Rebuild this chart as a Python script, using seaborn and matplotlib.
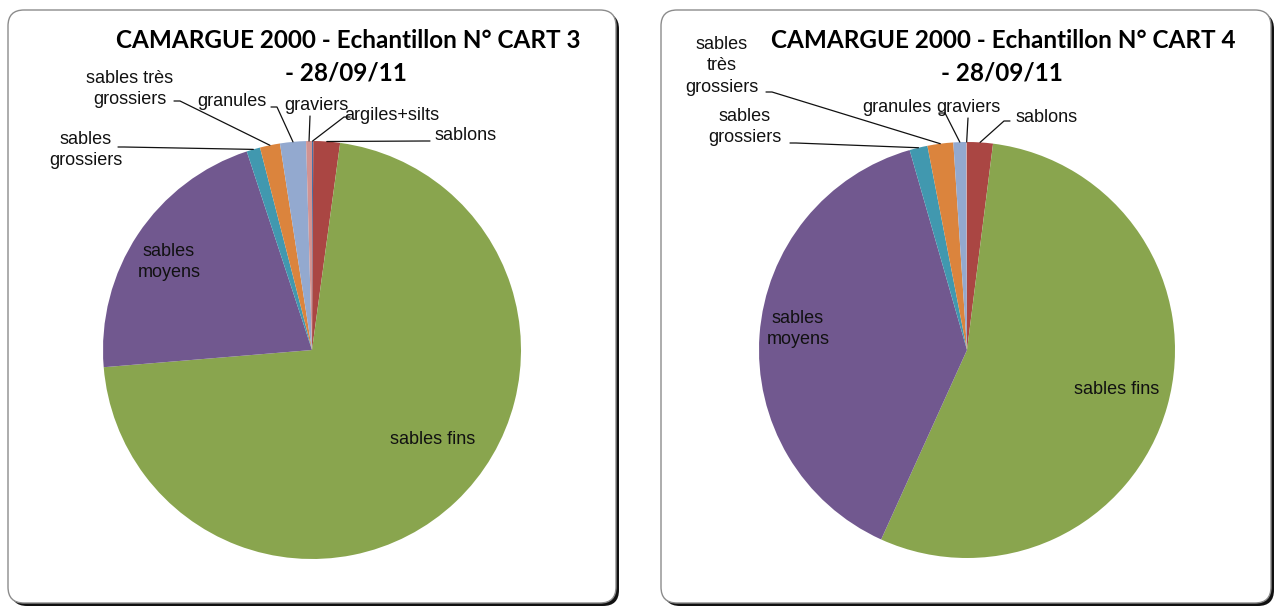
import matplotlib
matplotlib.use("Agg")
import numpy as np
import matplotlib.pyplot as plt
from matplotlib.patches import FancyBboxPatch
import seaborn as sns

# Grain-size fractions (% of sample mass), in slice order starting at 12 o'clock
categories = ["argiles+silts", "sablons", "sables fins", "sables moyens",
              "sables grossiers", "sables très grossiers", "granules", "graviers"]
cart3 = [0.1, 2.05, 71.5, 21.25, 1.05, 1.55, 2.0, 0.45]
cart4 = [0.0, 2.0, 54.8, 38.8, 1.4, 2.0, 1.0, 0.05]

# Chart titles, as two lines each
titles = [("CAMARGUE 2000 - Echantillon N° CART 3", "- 28/09/11"),
          ("CAMARGUE 2000 - Echantillon N° CART 4", "- 28/09/11")]

# Wrapped label text for each panel (None = no label shown)
labels3 = ["argiles+silts", "sablons", "sables fins", "sables\nmoyens",
           "sables\ngrossiers", "sables très\ngrossiers", "granules", "graviers"]
labels4 = [None, "sablons", "sables fins", "sables\nmoyens",
           "sables\ngrossiers", "sables\ntrès\ngrossiers", "granules", "graviers"]

colors = ["#4572A7", "#AA4643", "#89A54E", "#71588F",
          "#4198AF", "#DB843D", "#93A9CF", "#D19392"]

W, H = 1277, 606
sns.set_style("white")
plt.rcParams["font.family"] = ["Liberation Sans", "DejaVu Sans"]

fig = plt.figure(figsize=(W / 100, H / 100), dpi=100)
ax = fig.add_axes([0, 0, 1, 1])


def P(x, y):
    """Pixel position (origin top-left) to axes data coordinates."""
    return x, H - y


# Panel frames with a drop shadow on the right/bottom
for (x0, x1) in [(8, 616), (661, 1271)]:
    y0, y1 = 10, 603
    shadow = FancyBboxPatch((x0 + 3, H - y1 - 3), x1 - x0, y1 - y0,
                            boxstyle="round,pad=0,rounding_size=16",
                            fc="#111111", ec="none", zorder=0)
    ax.add_patch(shadow)
    frame = FancyBboxPatch((x0, H - y1), x1 - x0, y1 - y0,
                           boxstyle="round,pad=0,rounding_size=16",
                           fc="white", ec="#8c8c8c", lw=1.0, zorder=1)
    ax.add_patch(frame)

# Layout: pie centre / radius, title line centres, and label placement
# label entry: (text centre x, text centre y, leader-line anchor or None, elbow dx)
layouts = [
    dict(center=(312, 350), radius=209, title=((348, 40), (346, 73)),
         values=cart3, labels=labels3,
         place={
             "argiles+silts": (392, 115, (350, 117), -6),
             "sablons": (466, 136, (430, 141), -6),
             "sables fins": (433, 440, None, 0),
             "sables moyens": (169, 262, None, 0),
             "sables grossiers": (86, 150, (118, 147), 6),
             "sables très grossiers": (130, 89, (174, 101), 6),
             "granules": (232, 101, (271, 107), 6),
             "graviers": (316, 105, (310, 116), 0),
         }),
    dict(center=(967, 350), radius=208, title=((1003, 40), (1002, 73)),
         values=cart4, labels=labels4,
         place={
             "sablons": (1047, 117, (1010, 121), -6),
             "sables fins": (1117, 390, None, 0),
             "sables moyens": (798, 329, None, 0),
             "sables grossiers": (745, 127, (790, 143), 6),
             "sables très grossiers": (722, 66, (766, 92), 6),
             "granules": (897, 107, (939, 113), 6),
             "graviers": (968, 107, (968, 118), 0),
         }),
]

for i, lay in enumerate(layouts):
    cx, cy = P(*lay["center"])
    r = lay["radius"]
    wedges, _ = ax.pie(lay["values"], colors=colors, startangle=90,
                       counterclock=False, center=(cx, cy), radius=r,
                       wedgeprops=dict(linewidth=0))
    for w in wedges:
        w.set_zorder(2)
    for cat, lab, w in zip(categories, lay["labels"], wedges):
        if lab is None:
            continue
        tx, ty, anchor, dx = lay["place"][cat]
        ax.text(*P(tx, ty), lab, ha="center", va="center", fontsize=13,
                color="#111111", linespacing=1.38, zorder=4)
        if anchor is not None:
            mid = np.deg2rad((w.theta1 + w.theta2) / 2)
            rx, ry = cx + r * np.cos(mid), cy + r * np.sin(mid)
            ax0, ay0 = P(*anchor)
            ax.plot([ax0, ax0 + dx, rx], [ay0, ay0, ry],
                    color="#111111", lw=0.9, zorder=3)
    for line, pos in zip(titles[i], lay["title"]):
        ax.text(*P(*pos), line, ha="center", va="center",
                fontsize=17.5, fontweight="bold", family=["Lato", "DejaVu Sans"],
                color="black", zorder=4)

ax.set_xlim(0, W)
ax.set_ylim(0, H)
ax.set_aspect("equal")
ax.axis("off")

fig.savefig("out.png", dpi=100)
